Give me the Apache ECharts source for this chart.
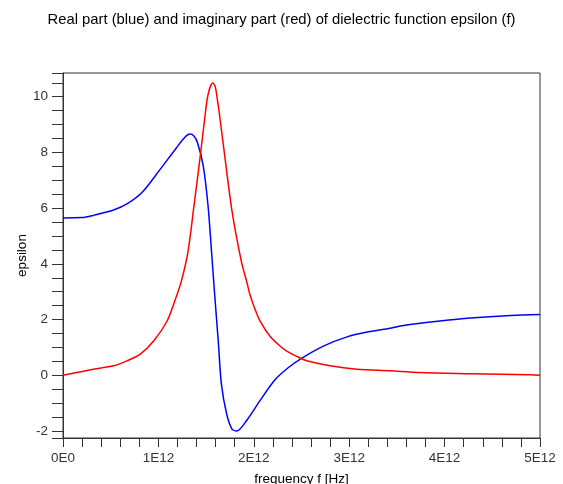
<!DOCTYPE html>
<html>
<head>
<meta charset="utf-8">
<script src="https://cdn.jsdelivr.net/npm/echarts@6/dist/echarts.min.js"></script>
<style>html,body{margin:0;padding:0;background:#fff;}#c{width:563px;height:484px;}</style>
</head>
<body>
<div id="c"></div>
<script>
// frequency in units of 1E12 Hz
var blueFreq = [0, 0.2, 0.32, 0.53, 0.67, 0.83, 1.02, 1.19, 1.28, 1.33, 1.37, 1.41, 1.47, 1.52, 1.56, 1.59, 1.63, 1.66, 1.715, 1.77, 1.82, 1.925, 2.065, 2.22, 2.36, 2.5, 2.73, 2.97, 3.2, 3.43, 3.57, 3.95, 4.27, 4.69, 5.0];
var blueVals = [5.65, 5.66, 5.74, 5.93, 6.15, 6.57, 7.40, 8.17, 8.55, 8.66, 8.6, 8.35, 7.52, 6.10, 4.30, 2.89, 1.11, -0.31, -1.38, -1.92, -2.0, -1.62, -0.91, -0.17, 0.27, 0.61, 1.05, 1.37, 1.56, 1.69, 1.79, 1.95, 2.06, 2.15, 2.18];
var redFreq = [0, 0.14, 0.32, 0.53, 0.67, 0.81, 0.95, 1.09, 1.17, 1.24, 1.31, 1.37, 1.44, 1.48, 1.52, 1.57, 1.60, 1.68, 1.77, 1.87, 1.925, 1.96, 2.01, 2.065, 2.17, 2.275, 2.345, 2.45, 2.555, 2.8, 3.08, 3.43, 3.74, 4.27, 4.9, 5.0];
var redVals = [0, 0.10, 0.22, 0.34, 0.52, 0.76, 1.23, 1.94, 2.65, 3.37, 4.43, 6.0, 7.9, 9.06, 10.07, 10.49, 10.31, 8.29, 5.93, 4.08, 3.37, 2.89, 2.40, 1.95, 1.40, 1.05, 0.87, 0.68, 0.52, 0.34, 0.22, 0.16, 0.10, 0.06, 0.02, 0.0];
var xTickLabels = ['0E0', '1E12', '2E12', '3E12', '4E12', '5E12'];
var yTickLabels = ['-2', '0', '2', '4', '6', '8', '10'];

function zip(a, b) { return a.map(function (v, i) { return [v, b[i]]; }); }

var FONT = 'Liberation Sans, Arial, Helvetica, sans-serif';
var chart = echarts.init(document.getElementById('c'), null, {renderer: 'canvas'});
chart.setOption({
  animation: false,
  backgroundColor: '#fff',
  title: {
    text: 'Real part (blue) and imaginary part (red) of dielectric function epsilon (f)',
    left: 'center', top: 7,
    textStyle: {fontFamily: FONT, fontSize: 14.8, fontWeight: 'normal', color: '#000'}
  },
  grid: {left: 63, right: 23, top: 73, bottom: 46, show: true, borderColor: '#333', borderWidth: 1,
         containLabel: false, outerBoundsMode: 'none'},
  xAxis: {
    type: 'value', min: 0, max: 5, interval: 0.2,
    name: 'frequency f [Hz]', nameLocation: 'middle', nameGap: 34, nameMoveOverlap: false,
    nameTextStyle: {fontFamily: FONT, fontSize: 13.5, color: '#000'},
    axisLine: {show: true, onZero: false, lineStyle: {color: '#333', width: 1}},
    axisTick: {show: true, length: 9, lineStyle: {color: '#333'}},
    splitLine: {show: false},
    axisLabel: {
      fontFamily: FONT, fontSize: 13.5, color: '#333', margin: 13,
      showMinLabel: true, showMaxLabel: true,
      formatter: function (v) {
        var r = Math.round(v);
        if (Math.abs(v - r) > 1e-6) return '';
        return xTickLabels[r] || '';
      }
    }
  },
  yAxis: {
    type: 'value', min: -2.25, max: 10.85, splitNumber: 26,
    name: 'epsilon', nameLocation: 'middle', nameGap: 34, nameRotate: 90, nameMoveOverlap: false,
    nameTextStyle: {fontFamily: FONT, fontSize: 13.5, color: '#000'},
    axisLine: {show: true, onZero: false, lineStyle: {color: '#333', width: 1}},
    axisTick: {show: true, length: 11, lineStyle: {color: '#333'}},
    splitLine: {show: false},
    axisLabel: {
      fontFamily: FONT, fontSize: 13.5, color: '#333', margin: 15,
      formatter: function (v) {
        var r = Math.round(v);
        if (Math.abs(v - r) > 1e-6) return '';
        var i = yTickLabels.indexOf(String(r));
        return i >= 0 ? yTickLabels[i] : '';
      }
    }
  },
  series: [
    {type: 'line', data: zip(blueFreq, blueVals), showSymbol: false, smooth: 0.3,
     lineStyle: {color: '#0000ff', width: 1.5}, itemStyle: {color: '#0000ff'}},
    {type: 'line', data: zip(redFreq, redVals), showSymbol: false, smooth: 0.3,
     lineStyle: {color: '#ff0000', width: 1.5}, itemStyle: {color: '#ff0000'}}
  ]
});
</script>
</body>
</html>
